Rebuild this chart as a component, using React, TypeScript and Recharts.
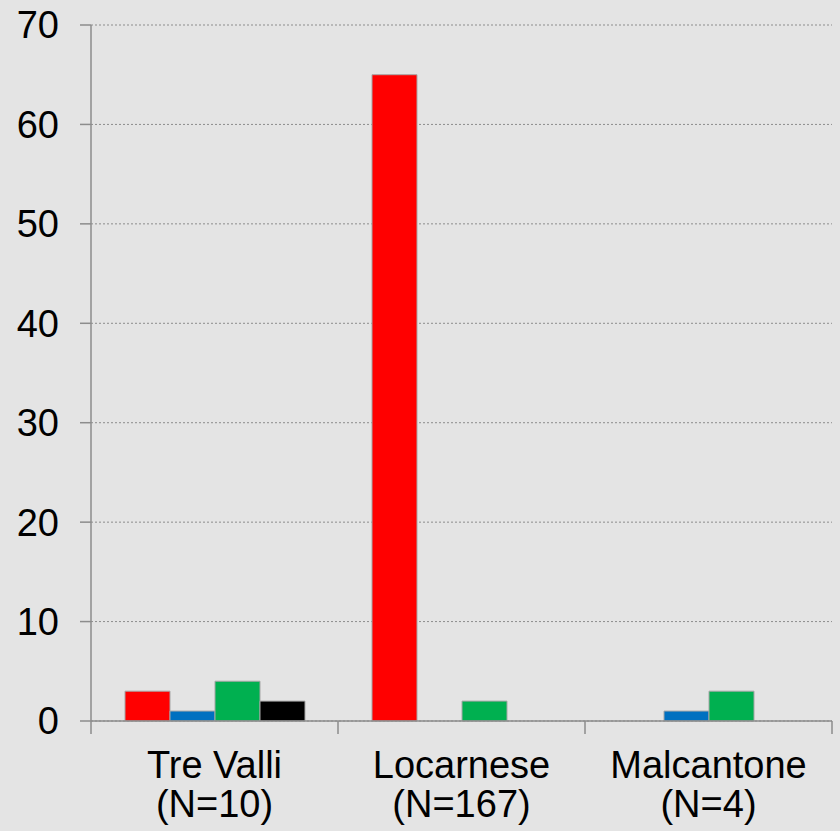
import { Bar, BarChart, CartesianGrid, XAxis, YAxis } from "recharts";

document.body.style.margin = "0";

const regions = ["Tre Valli", "Locarnese", "Malcantone"];
const sampleSizes = ["(N=10)", "(N=167)", "(N=4)"];
const redValues = [3, 65, 0];
const blueValues = [1, 0, 1];
const greenValues = [4, 2, 3];
const blackValues = [2, 0, 0];
const yTicks = [0, 10, 20, 30, 40, 50, 60, 70];

const series = [
  { key: "red", color: "#ff0000", values: redValues },
  { key: "blue", color: "#0070c0", values: blueValues },
  { key: "green", color: "#00b050", values: greenValues },
  { key: "black", color: "#000000", values: blackValues },
];

const data = regions.map((region, i) => {
  const row: Record<string, string | number> = { region, n: sampleSizes[i] };
  series.forEach((s) => {
    row[s.key] = s.values[i];
  });
  return row;
});

const FONT = "'Liberation Sans', Arial, sans-serif";
const AXIS_GRAY = "#8c8c8c";

// category labels on two lines, tick marks between categories
const RegionTick = (props: any) => {
  const { x, y, payload, index, width, visibleTicksCount } = props;
  const band = width / visibleTicksCount;
  const left = x - band / 2;
  return (
    <g>
      <line x1={left} y1={y} x2={left} y2={y + 13} stroke={AXIS_GRAY} strokeWidth={1.5} />
      {index === visibleTicksCount - 1 && (
        <line x1={left + band} y1={y} x2={left + band} y2={y + 13} stroke={AXIS_GRAY} strokeWidth={1.5} />
      )}
      <text x={x} y={y} textAnchor="middle" fill="#000" fontSize={38} fontFamily={FONT}>
        <tspan x={x} dy={57}>{payload.value}</tspan>
        <tspan x={x} dy={39}>{sampleSizes[index]}</tspan>
      </text>
    </g>
  );
};

export default function App() {
  return (
    <div style={{ width: 840, height: 831, background: "#e4e4e4" }}>
      <BarChart
        width={840}
        height={831}
        data={data}
        margin={{ top: 25, right: 8, bottom: 0, left: 0 }}
        barGap={0}
      >
        <CartesianGrid vertical={false} stroke={AXIS_GRAY} strokeDasharray="2 2" />
        <XAxis
          dataKey="region"
          height={110}
          tick={<RegionTick />}
          tickSize={0}
          tickMargin={0}
          tickLine={false}
          axisLine={{ stroke: AXIS_GRAY, strokeWidth: 1.5 }}
          interval={0}
        />
        <YAxis
          width={91}
          domain={[0, 70]}
          ticks={yTicks}
          tickSize={11}
          tickMargin={21}
          tick={{ fill: "#000", fontSize: 38, fontFamily: FONT }}
          axisLine={{ stroke: AXIS_GRAY, strokeWidth: 1.5 }}
          tickLine={{ stroke: AXIS_GRAY, strokeWidth: 1.5 }}
        />
        {series.map((s) => (
          <Bar
            key={s.key}
            dataKey={s.key}
            fill={s.color}
            stroke="#a6a6a6"
            strokeWidth={1}
            barSize={45}
            isAnimationActive={false}
          />
        ))}
      </BarChart>
    </div>
  );
}
